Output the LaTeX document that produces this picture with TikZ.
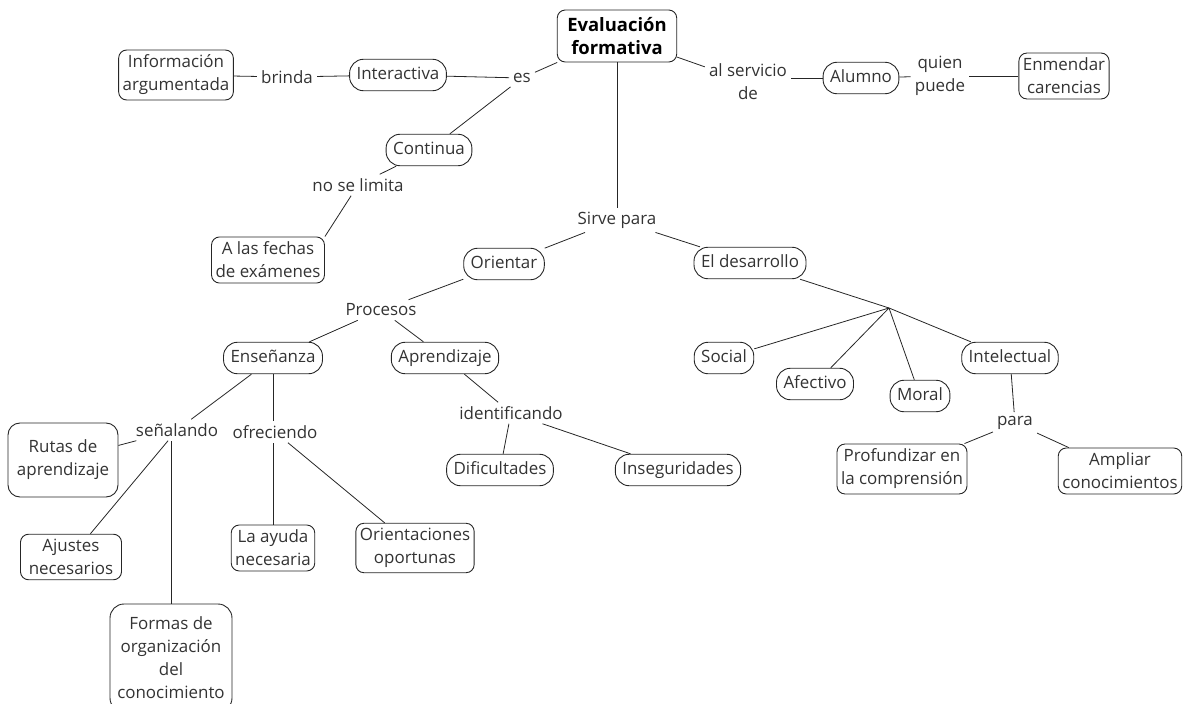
\documentclass[tikz,border=0pt]{standalone}
\usepackage{fontspec}
\setmainfont{Open Sans}
\begin{document}
\begin{tikzpicture}[x=1bp,y=-1bp,
  txt/.style={font=\fontsize{17}{23}\selectfont, text=black!80},
  box/.style={txt, draw=black!85, rounded corners=8bp, line width=0.9bp, align=center, inner xsep=4bp, inner ysep=5bp},
  pill/.style={box, rounded corners=14bp, inner xsep=7bp, text height=12.5bp, text depth=4bp, inner ysep=7.5bp},
  lbl/.style={txt, align=center, inner sep=4bp},
  con/.style={line width=0.8bp, draw=black!85}]
\useasboundingbox (0,0) rectangle (1183,704);
% nodes
\node[box, font=\fontsize{18.5}{23}\selectfont\bfseries, text=black, inner xsep=10bp, inner ysep=4bp, minimum height=52bp] (eval) at (617,36) {Evaluación\\formativa};
\node[box] (info) at (176,75) {Información\\argumentada};
\node[lbl] (brinda) at (287,77) {brinda};
\node[pill] (inter) at (398,75) {Interactiva};
\node[lbl] (es) at (522,78) {es};
\node[pill] (cont) at (429,150) {Continua};
\node[lbl] (nolim) at (358,185) {no se limita};
\node[box] (fechas) at (268,260) {A las fechas\\de exámenes};
\node[lbl] (serv) at (748,82) {al servicio\\de};
\node[pill] (alum) at (861,78) {Alumno};
\node[lbl] (quien) at (940,76) {quien\\puede};
\node[box] (enm) at (1064,76) {Enmendar\\carencias};
\node[lbl] (sirve) at (617,220) {Sirve para};
\node[pill] (orient) at (504,264) {Orientar};
\node[pill] (desa) at (750,263) {El desarrollo};
\node[lbl] (proc) at (381,310) {Procesos};
\node[pill] (ense) at (273,358) {Enseñanza};
\node[pill] (apre) at (445,358) {Aprendizaje};
\node[lbl] (senal) at (177,430) {señalando};
\node[lbl] (ofre) at (275,432) {ofreciendo};
\node[box, minimum width=110bp, minimum height=74bp, rounded corners=12bp] (rutas) at (63,460) {Rutas de\\aprendizaje};
\node[box, minimum width=101bp] (ajus) at (71,557) {Ajustes\\necesarios};
\node[box, minimum width=122bp, minimum height=108bp, rounded corners=14bp] (formas) at (171,658) {Formas de\\organización\\del\\conocimiento};
\node[box] (ayuda) at (273,548) {La ayuda\\necesaria};
\node[box] (orien2) at (415,548) {Orientaciones\\oportunas};
\node[lbl] (ident) at (511,413) {identificando};
\node[pill] (dif) at (500,470) {Dificultades};
\node[pill] (inseg) at (678,470) {Inseguridades};
\coordinate (hub) at (889,308);
\node[pill] (social) at (724,358) {Social};
\node[pill] (afect) at (815,384) {Afectivo};
\node[pill] (moral) at (920,396) {Moral};
\node[pill] (intel) at (1010,358) {Intelectual};
\node[lbl] (para) at (1015,423) {para};
\node[box] (prof) at (902,469) {Profundizar en\\la comprensión};
\node[box] (ampl) at (1120,471) {Ampliar\\conocimientos};
% connectors
\draw[con] (info) -- (brinda);
\draw[con] (brinda) -- (inter);
\draw[con] (inter) -- (es);
\draw[con] (eval) -- (es);
\draw[con] (es) -- (cont);
\draw[con] (cont) -- (nolim);
\draw[con] (nolim) -- (fechas.north east);
\draw[con] (eval) -- (serv);
\draw[con] (alum.west) -- (alum.west -| serv.east);
\draw[con] (alum) -- (quien);
\draw[con] (quien) -- (enm);
\draw[con] (eval.south) -- (sirve.north);
\draw[con] (sirve) -- (orient);
\draw[con] (sirve) -- (desa);
\draw[con] (orient) -- (proc);
\draw[con] (proc) -- (ense);
\draw[con] (proc) -- (apre);
\draw[con] (ense) -- (senal);
\draw[con] (senal) -- (rutas);
\draw[con] (senal) -- (ajus);
\draw[con] (formas.north) -- (formas.north |- senal.south);
\draw[con] (ense.south) -- (ense.south |- ofre.north);
\draw[con] (ayuda.north) -- (ayuda.north |- ofre.south);
\draw[con] (ofre) -- (orien2);
\draw[con] (apre) -- (ident);
\draw[con] (ident) -- (dif);
\draw[con] (ident) -- (inseg);
\draw[con] (desa) -- (hub);
\draw[con] (hub) -- (intel);
\draw[con] (hub) -- (social);
\draw[con] (hub) -- (afect);
\draw[con] (hub) -- (moral);
\draw[con] (intel) -- (para);
\draw[con] (para) -- (prof);
\draw[con] (para) -- (ampl);
\end{tikzpicture}
\end{document}
